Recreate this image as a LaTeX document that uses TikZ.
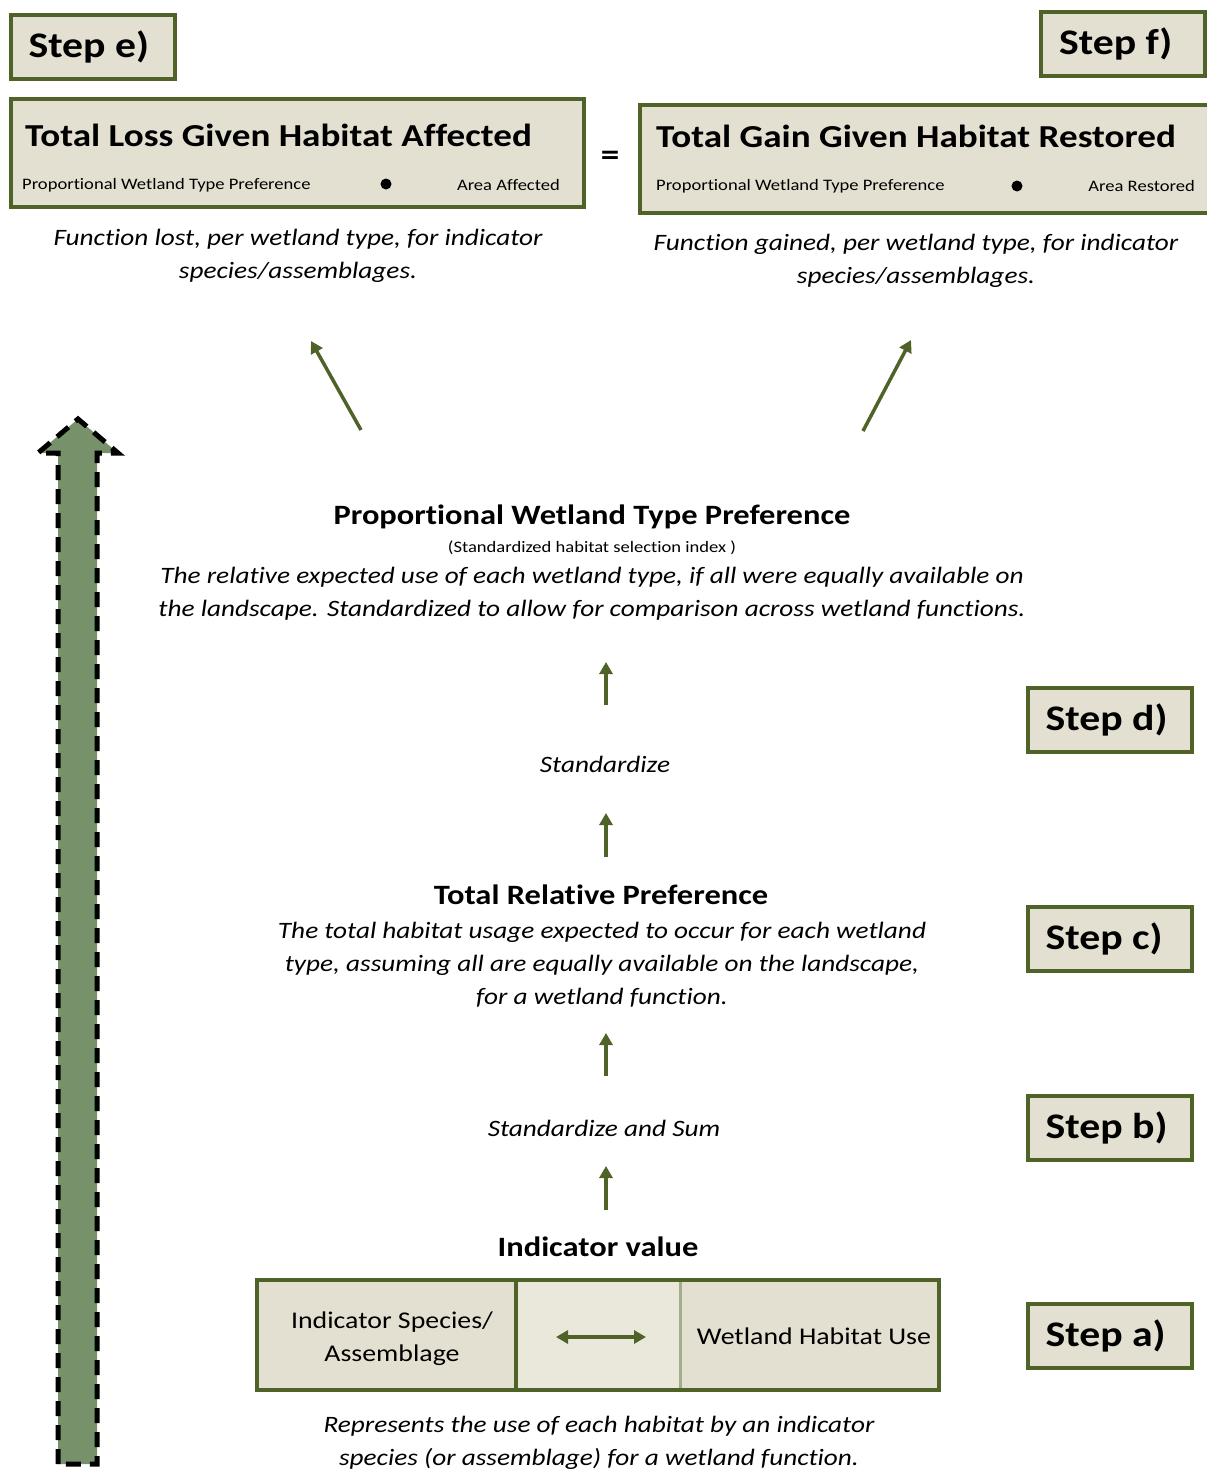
\documentclass[tikz,border=0pt]{standalone}
\usepackage{fontspec}
\setmainfont{Carlito}[FakeStretch=1.16, Ligatures=NoCommon]
\usepackage{xcolor}
\definecolor{wetgreen}{HTML}{4F6228}
\definecolor{boxtan}{HTML}{E4E0D1}
\definecolor{celltan}{HTML}{EAE7DB}
\definecolor{divgreen}{HTML}{A3AC8C}
\definecolor{bigarrow}{HTML}{77916A}
\usepackage{tikz}
\usetikzlibrary{arrows.meta, positioning}

\tikzset{
  stepbox/.style={draw=wetgreen, line width=4pt, fill=boxtan, text width=128pt, inner xsep=18pt,
    minimum height=64pt, align=flush left, font=\fontsize{36}{40}\selectfont\bfseries},
  totalbox/.style={draw=wetgreen, line width=4pt, fill=boxtan, minimum height=108pt},
  boxtitle/.style={anchor=west, inner sep=0pt, font=\fontsize{32}{34}\selectfont\bfseries},
  boxsmall/.style={inner sep=0pt, font=\fontsize{16}{19}\selectfont},
  multdot/.style={circle, fill=black, minimum size=11pt, inner sep=0pt},
  caption/.style={align=flush center, inner sep=0pt, font=\fontsize{23.5}{33}\selectfont\itshape},
  midtitle/.style={inner sep=0pt, font=\fontsize{28}{30}\selectfont\bfseries},
  cellbox/.style={minimum height=110pt, inner sep=0pt},
  celltext/.style={align=flush center, inner sep=0pt, font=\fontsize{24}{33}\selectfont},
  flow/.style={-{Triangle[width=13pt,length=12pt]}, line width=3.5pt, wetgreen},
}

\begin{document}
\begin{tikzpicture}[x=1pt,y=-1pt]
\path[use as bounding box, clip] (0,0) rectangle (1207,1470);

% Big dashed arrow on the left
\draw[fill=bigarrow, line width=5pt, dash pattern=on 15pt off 9pt]
  (58,1464) -- (58,453) -- (38,453) -- (78,419) -- (118,453) -- (97,453) -- (97,1464) -- cycle;

% Step boxes
\node[stepbox] (stepe) at (92.5,46.5) {Step e)};
\node[stepbox] (stepf) at (1123,44) {Step f)};
\node[stepbox] (stepd) at (1109.5,720) {Step d)};
\node[stepbox] (stepc) at (1109.5,939) {Step c)};
\node[stepbox] (stepb) at (1109.5,1127.5) {Step b)};
\node[stepbox] (stepa) at (1109.5,1335.5) {Step a)};

% Total loss / total gain
\node[totalbox, minimum width=573pt] (loss) at (297.5,153) {};
\node[boxtitle] (lossTitle) at (25,135) {Total Loss Given Habitat Affected};
\node[boxsmall, anchor=west] (lossPref) at (22,185) {Proportional Wetland Type Preference};
\node[multdot] (lossDot) at (386,184) {};
\node[boxsmall, anchor=east] (lossArea) at (560,185) {Area Affected};
\node[caption] (lossText) at (298,256) {Function lost, per wetland type, for indicator\\species/assemblages.};

\node[font=\fontsize{32}{34}\selectfont\bfseries] (equals) at (610,158) {=};

\node[totalbox, minimum width=578pt] (gain) at (929,159) {};
\node[boxtitle] (gainTitle) at (656,136) {Total Gain Given Habitat Restored};
\node[boxsmall, anchor=west] (gainPref) at (656,186) {Proportional Wetland Type Preference};
\node[multdot] (gainDot) at (1017,186) {};
\node[boxsmall, anchor=east] (gainArea) at (1195,186) {Area Restored};
\node[caption] (gainText) at (916,261) {Function gained, per wetland type, for indicator\\species/assemblages.};

% Diagonal arrows
\coordinate (lossFrom) at (361,430);
\coordinate (lossTo) at (311,341);
\coordinate (gainFrom) at (863,431);
\coordinate (gainTo) at (911,340);
\draw[flow] (lossFrom) -- (lossTo);
\draw[flow] (gainFrom) -- (gainTo);

% Proportional wetland type preference
\node[midtitle] (pwtpTitle) at (592,517) {Proportional Wetland Type Preference};
\node[inner sep=0pt, font=\fontsize{16}{18}\selectfont] (pwtpSub) at (592,548) {(Standardized habitat selection index )};
\node[caption] (pwtpText) at (592,594) {The relative expected use of each wetland type, if all were equally available on\\the landscape. Standardized to allow for comparison across wetland functions.};

% Standardize
\coordinate (upA1) at (606,705); \coordinate (upA2) at (606,662);
\draw[flow] (upA1) -- (upA2);
\node[caption] (std) at (605,764) {Standardize};
\coordinate (upB1) at (606,857); \coordinate (upB2) at (606,813);
\draw[flow] (upB1) -- (upB2);

% Total relative preference
\node[midtitle] (trpTitle) at (601,895) {Total Relative Preference};
\node[caption] (trpText) at (602,965) {The total habitat usage expected to occur for each wetland\\type, assuming all are equally available on the landscape,\\for a wetland function.};

% Standardize and sum
\coordinate (upC1) at (606,1076); \coordinate (upC2) at (606,1033);
\draw[flow] (upC1) -- (upC2);
\node[caption] (stdSum) at (604,1128) {Standardize and Sum};
\coordinate (upD1) at (606,1210); \coordinate (upD2) at (606,1166);
\draw[flow] (upD1) -- (upD2);

% Indicator value
\node[midtitle] (ivTitle) at (598,1247) {Indicator value};
\node[cellbox, fill=boxtan, minimum width=259pt] (cellL) at (386.5,1335) {};
\node[cellbox, fill=celltan, minimum width=164pt] (cellM) at (598,1335) {};
\node[cellbox, fill=boxtan, minimum width=259pt] (cellR) at (809.5,1335) {};
\node[celltext] (speciesText) at (392,1339) {Indicator Species/\\Assemblage};
\node[celltext] (habitatText) at (814,1336) {Wetland Habitat Use};
\draw[divgreen, line width=3pt] (cellM.north east) -- (cellM.south east);
\draw[wetgreen, line width=4pt] (cellL.north east) -- (cellL.south east);
\draw[wetgreen, line width=4pt] (cellL.north west) rectangle (cellR.south east);
\coordinate (linkL) at (556,1337); \coordinate (linkR) at (646,1337);
\draw[flow, {Triangle[width=13pt,length=12pt]}-{Triangle[width=13pt,length=12pt]}] (linkL) -- (linkR);
\node[caption] (ivText) at (599,1443) {Represents the use of each habitat by an indicator\\species (or assemblage) for a wetland function.};
\end{tikzpicture}
\end{document}
